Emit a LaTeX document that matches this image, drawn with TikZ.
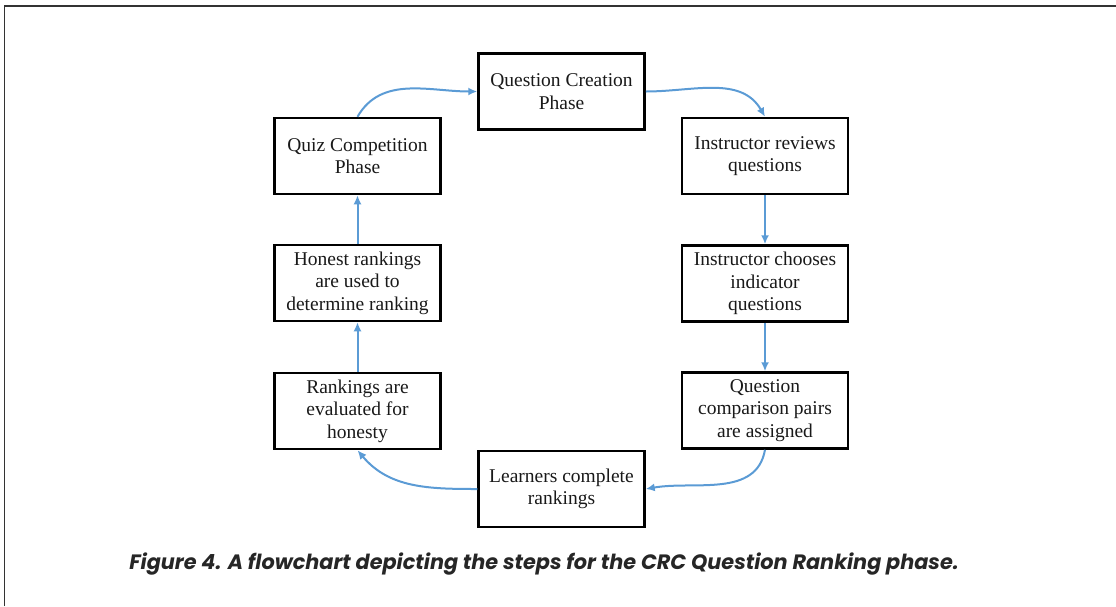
\documentclass[tikz,border=0pt]{standalone}
\usepackage{fontspec}
\setmainfont{Liberation Serif}
\newfontfamily\capfont{Poppins}
\usetikzlibrary{arrows.meta}

\definecolor{flowblue}{RGB}{91,155,213}

\begin{document}
\begin{tikzpicture}[x=1pt, y=-1pt,
    stage/.style={draw, line width=2.5pt, minimum width=166pt, minimum height=76pt, align=center, inner sep=0pt, text=black!90, font=\fontsize{19.5}{22.5}\selectfont},
    flow/.style={-{Latex[length=9pt, width=8pt]}, line width=2pt, color=flowblue}]
    \useasboundingbox (0,0) rectangle (1116,606);
    \draw[line width=1.5pt, black!80] (4.5,606) -- (4.5,6) -- (1116,6);

    \node[stage] (create) at (561.5,91.5) {Question Creation\\Phase};
    \node[stage] (review) at (765,156) {Instructor reviews\\questions};
    \node[stage] (choose) at (765,283.5) {Instructor chooses\\indicator\\questions};
    \node[stage] (pairs) at (765,410.5) {Question\\comparison pairs\\are assigned};
    \node[stage] (learn) at (561.5,489) {Learners complete\\rankings};
    \node[stage] (honesty) at (357.5,411) {Rankings are\\evaluated for\\honesty};
    \node[stage] (honest) at (357.5,283) {Honest rankings\\are used to\\determine ranking};
    \node[stage] (quiz) at (357.5,156) {Quiz Competition\\Phase};

    \draw[flow] (quiz.north) to[out=60, in=180] (create.west);
    \draw[flow] (create.east) to[out=0, in=120] (review.north);
    \draw[flow] (review) -- (choose);
    \draw[flow] (choose) -- (pairs);
    \draw[flow] (pairs.south) to[out=-100, in=10] (learn.east);
    \draw[flow] (learn.west) to[out=180, in=-50] (honesty.south);
    \draw[flow] (honesty) -- (honest);
    \draw[flow] (honest) -- (quiz);

    \node[font=\capfont\bfseries\itshape\fontsize{20.8}{24}\selectfont, text=black!85] (caption) at (544,564) {Figure 4. A flowchart depicting the steps for the CRC Question Ranking phase.};
\end{tikzpicture}
\end{document}
